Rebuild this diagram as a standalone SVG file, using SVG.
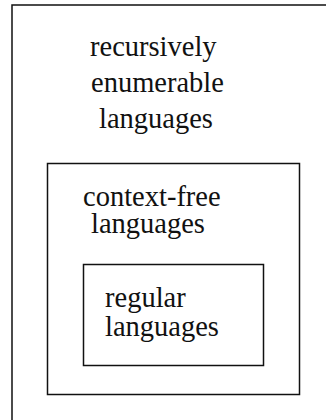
<svg xmlns="http://www.w3.org/2000/svg" width="326" height="420" viewBox="0 0 326 420">
  <style>
    .box { fill: none; stroke: #111; stroke-width: 1.5; }
    .lbl { font-family: "Liberation Serif", "Times New Roman", serif; font-size: 28.5px; fill: #111; }
  </style>
  <rect width="326" height="420" fill="#fff"/>
  <!-- outer set: recursively enumerable -->
  <g id="re">
    <rect class="box" x="12" y="5" width="330" height="430"/>
    <text class="lbl" x="90" y="56">recursively</text>
    <text class="lbl" x="91" y="92">enumerable</text>
    <text class="lbl" x="99" y="128">languages</text>
  </g>
  <!-- middle set: context-free -->
  <g id="cf">
    <rect class="box" x="47.5" y="163.5" width="252" height="231"/>
    <text class="lbl" x="83" y="206">context-free</text>
    <text class="lbl" x="91" y="233">languages</text>
  </g>
  <!-- inner set: regular -->
  <g id="reg">
    <rect class="box" x="83.5" y="264.5" width="180" height="101"/>
    <text class="lbl" x="105" y="307">regular</text>
    <text class="lbl" x="105" y="336">languages</text>
  </g>
  <g id="connectors"/>
</svg>
